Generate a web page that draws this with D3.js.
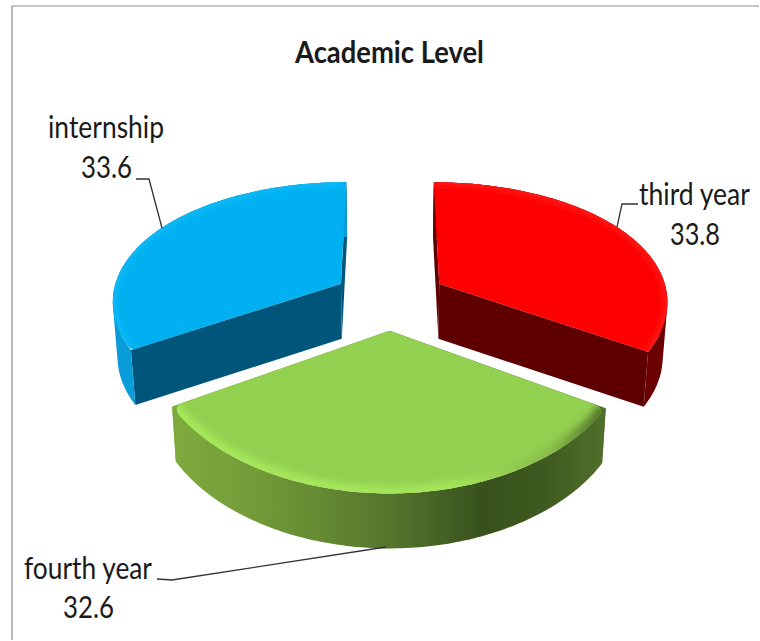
<!DOCTYPE html>
<html>
<head>
<meta charset="utf-8">
<script src="https://cdn.jsdelivr.net/npm/d3@7/dist/d3.min.js"></script>
<style>
html,body{margin:0;padding:0;background:#fff;}
svg{display:block;}
text{font-family:Lato,"Open Sans",sans-serif;fill:#1a1a1a;}
</style>
</head>
<body>
<svg id="chart" width="760" height="641"></svg>
<script>
// Chart content
const categories = ["third year", "fourth year", "internship"];
const values = [33.8, 32.6, 33.6];
const chartTitle = "Academic Level";

// Slice colours: top face, radial cut face, rim wall, bevel
const topColors = ["#ff0000", "#92d050", "#00b0f0"];
const cutColors = ["#5f0000", "url(#greenSide)", "#00567a"];
const rimColors = ["#6a0000", "url(#greenSide)", "#0a9cd8"];
const bevelColors = ["#ff1c1c", "url(#greenBevel)", "#10b9f8"];
const bevelWidths = [7, 15, 8];
const cornerRounding = [2, 12, 4];

// Tilted, perspective view of the pie plane; the lower disc sits a little further away
const view = {cx: 390, cy: 298.5, rx: 229, ry: 123.2, px: 0.127, py: 0.168, depth: 55, explode: 0.25, lowerScale: 0.983};
const project = (X, Y) => [
  view.cx + view.rx * X / (1 - view.px * Y),
  view.cy + view.ry * Y / (1 - view.py * Y)
];

const svg = d3.select("#chart");
const defs = svg.append("defs");

function linearGradient(id, stops) {
  const g = defs.append("linearGradient").attr("id", id)
    .attr("gradientUnits", "userSpaceOnUse")
    .attr("x1", 171).attr("x2", 606).attr("y1", 0).attr("y2", 0);
  stops.forEach(([o, c]) => g.append("stop").attr("offset", o).attr("stop-color", c));
}
linearGradient("greenSide", [[0, "#7fab3e"], [0.2, "#729b38"], [0.5, "#55762d"], [0.72, "#38511c"], [0.86, "#3f5a20"], [1, "#50702a"]]);
linearGradient("greenBevel", [[0, "#a6e85c"], [0.65, "#a4e55a"], [0.88, "#86b848"], [1, "#4e6d28"]]);

defs.append("filter").attr("id", "soft")
  .attr("x", "-20%").attr("y", "-20%").attr("width", "140%").attr("height", "140%")
  .append("feGaussianBlur").attr("stdDeviation", 3.5);

// Frame of the chart area (top and left edges are in view)
svg.append("path")
  .attr("d", d3.line()([[759, 6], [12, 6], [12, 640]]))
  .attr("fill", "none").attr("stroke", "#8e8e8e").attr("stroke-width", 1.2);

const arcs = d3.pie().sort(null).startAngle(0).endAngle(2 * Math.PI)(values);
const line = d3.line();
const drop = ([x, y]) => [view.cx + (x - view.cx) * view.lowerScale, y + view.depth];

// Point a given distance from p towards q
function toward(p, q, dist) {
  const L = Math.hypot(q[0] - p[0], q[1] - p[1]);
  return [p[0] + (q[0] - p[0]) * dist / L, p[1] + (q[1] - p[1]) * dist / L];
}

// Rim wall as one path of quads that all wind the same way, so its fill has no seams
function wallPath(rimPts) {
  return d3.pairs(rimPts).map(([p, q]) => {
    const quad = [p, q, drop(q), drop(p)];
    return line(d3.polygonArea(quad) < 0 ? quad.reverse() : quad) + "Z";
  }).join("");
}

// Each slice is drawn separately; the front slice goes last so it overlaps the others
const order = [0, 2, 1];
order.forEach(i => {
  const a = arcs[i];
  const mid = (a.startAngle + a.endAngle) / 2;
  const ox = view.explode * Math.sin(mid);
  const oy = -view.explode * Math.cos(mid);
  const apex = project(ox, oy);
  const rimPts = d3.range(0, 121).map(k => {
    const t = a.startAngle + (a.endAngle - a.startAngle) * k / 120;
    return project(ox + Math.sin(t), oy - Math.cos(t));
  });
  const first = rimPts[0], last = rimPts[120];
  const g = svg.append("g").attr("class", "slice");

  // Radial walls, then the rim wall, then the top face over them
  [first, last].forEach(edge => {
    g.append("path")
      .attr("d", line([apex, edge, drop(edge), drop(apex)]) + "Z")
      .attr("fill", cutColors[i]);
  });
  g.append("path").attr("d", wallPath(rimPts)).attr("fill", rimColors[i]);

  // Top face with slightly rounded outer corners
  const r = cornerRounding[i];
  const inner = rimPts.filter(p =>
    Math.hypot(p[0] - first[0], p[1] - first[1]) > r &&
    Math.hypot(p[0] - last[0], p[1] - last[1]) > r);
  const path = d3.path();
  const startCut = toward(first, apex, r);
  const endCut = toward(last, apex, r);
  path.moveTo(...apex);
  path.lineTo(...startCut);
  path.quadraticCurveTo(first[0], first[1], inner[0][0], inner[0][1]);
  inner.forEach(p => path.lineTo(p[0], p[1]));
  path.quadraticCurveTo(last[0], last[1], endCut[0], endCut[1]);
  path.closePath();
  const face = path.toString();

  g.append("path").attr("d", face).attr("fill", topColors[i]);

  // Soft bevel just inside the outer edge
  const clipId = "faceClip" + i;
  defs.append("clipPath").attr("id", clipId).append("path").attr("d", face);
  g.append("g").attr("clip-path", `url(#${clipId})`)
    .append("path")
    .attr("d", line(rimPts))
    .attr("fill", "none")
    .attr("stroke", bevelColors[i])
    .attr("stroke-width", bevelWidths[i])
    .attr("filter", "url(#soft)");
});

// Leader lines from the labels to their slices
const leaders = [
  [[638, 204], [622, 204], [617, 227]],
  [[157, 579], [172, 580], [386, 547]],
  [[136, 179], [149, 179], [162, 228]]
];
svg.append("g").selectAll("path").data(leaders).join("path")
  .attr("d", d => line(d))
  .attr("fill", "none").attr("stroke", "#333").attr("stroke-width", 1.3);

// Labels: category name above its value, narrowed horizontally to the set widths
const labelBoxes = [
  {name: [639, 205, 111], value: [670, 245, 50]},
  {name: [24, 579, 128], value: [63, 618, 51]},
  {name: [48, 138, 116], value: [81, 178, 51]}
];
function fittedText(parent, str, [x, y, w], size, weight) {
  const t = parent.append("text")
    .attr("font-size", size).attr("font-weight", weight)
    .text(str);
  const natural = t.node().getComputedTextLength();
  t.attr("transform", `translate(${x},${y}) scale(${w / natural},1)`);
}
const labels = svg.append("g");
categories.forEach((c, i) => {
  fittedText(labels, c, labelBoxes[i].name, 30, 400);
  fittedText(labels, d3.format(".1f")(values[i]), labelBoxes[i].value, 30, 400);
});
fittedText(svg, chartTitle, [295, 63, 189], 30, 700);
</script>
</body>
</html>
